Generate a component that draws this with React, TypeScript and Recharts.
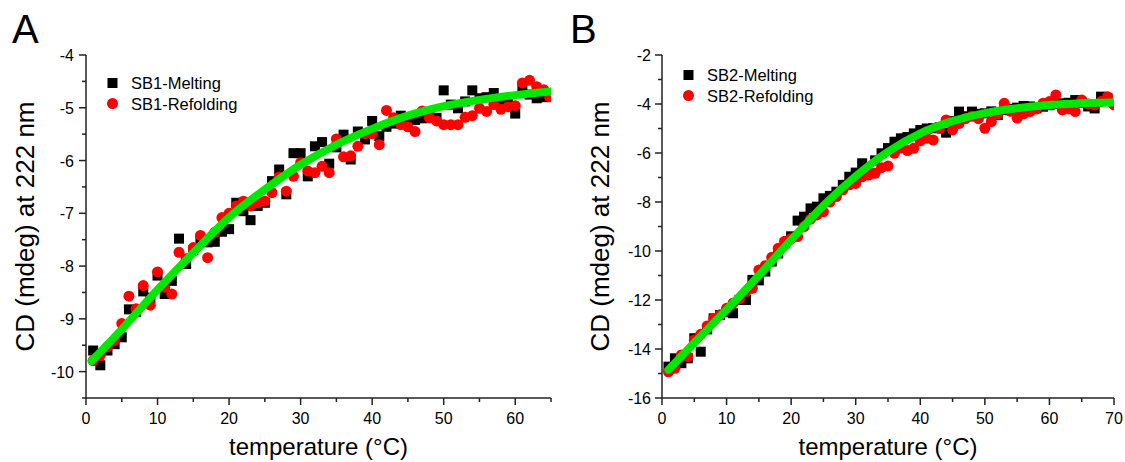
import React from 'react';
import { ComposedChart, Scatter, Line, XAxis, YAxis, Label } from 'recharts';

// ---------- Panel A data ----------
const tempMeltA = [1,2,3,4,5,6,7,8,9,10,11,12,13,14,15,16,17,18,19,20,21,22,23,24,25,26,27,28,29,30,31,32,33,34,35,36,37,38,39,40,41,42,43,44,45,46,47,48,49,50,51,52,53,54,55,56,57,58,59,60,61,62,63,64];
const meltA = [-9.6,-9.88,-9.6,-9.48,-9.35,-8.82,-8.87,-8.48,-8.6,-8.18,-8.53,-8.28,-7.48,-7.96,-7.7,-7.49,-7.55,-7.54,-7.35,-7.3,-6.8,-6.96,-7.13,-6.86,-6.8,-6.39,-6.17,-6.64,-5.86,-5.86,-6.3,-5.73,-5.65,-6.06,-5.75,-5.51,-5.98,-5.45,-5.6,-5.25,-5.54,-5.36,-5.3,-5.15,-5.19,-5.23,-5.2,-5.15,-5.19,-4.67,-4.94,-5.01,-4.88,-4.67,-4.82,-4.8,-4.72,-4.88,-4.85,-5.11,-4.6,-4.75,-4.82,-4.8];
const tempRefoldA = [1,2,3,4,5,6,7,8,9,10,11,12,13,14,15,16,17,18,19,20,21,22,23,24,25,26,27,28,29,30,31,32,33,34,35,36,37,38,39,40,41,42,43,44,45,46,47,48,49,50,51,52,53,54,55,56,57,58,59,60,61,62,63,64,64.8];
const refoldA = [-9.79,-9.69,-9.53,-9.41,-9.09,-8.57,-8.81,-8.37,-8.74,-8.11,-8.4,-8.53,-7.74,-7.86,-7.65,-7.42,-7.84,-7.36,-7.08,-7.0,-6.86,-6.77,-6.86,-6.8,-6.77,-6.61,-6.31,-6.58,-6.3,-6.04,-6.2,-6.23,-6.11,-6.23,-5.59,-5.93,-5.91,-5.73,-5.49,-5.49,-5.7,-5.05,-5.19,-5.32,-5.36,-5.45,-5.06,-5.19,-5.25,-5.32,-5.32,-5.32,-5.18,-5.15,-5.01,-5.07,-4.94,-5.03,-4.98,-4.96,-4.53,-4.48,-4.6,-4.66,-4.79];
const fitTempA = [0.8,5,10,15,20,25,30,35,40,45,50,55,60,65];
const fitA = [-9.8,-9.2,-8.45,-7.75,-7.08,-6.55,-6.08,-5.7,-5.4,-5.15,-4.97,-4.85,-4.76,-4.69];

// ---------- Panel B data ----------
const tempMeltB = [1,2,3,4,5,6,7,8,9,10,11,12,13,14,15,16,17,18,19,20,21,22,23,24,25,26,27,28,29,30,31,32,33,34,35,36,37,38,39,40,41,42,43,44,45,46,47,48,49,50,51,52,53,54,55,56,57,58,59,60,61,62,63,64,65,66,67,68,69];
const meltB = [-14.72,-14.38,-14.58,-14.38,-13.56,-14.11,-13.2,-12.75,-12.61,-12.5,-12.54,-12.0,-12.0,-11.18,-11.2,-10.84,-10.43,-10.1,-9.69,-9.4,-8.76,-8.6,-8.26,-8.19,-7.85,-7.75,-7.58,-7.3,-6.97,-6.8,-6.42,-6.83,-6.3,-6.01,-5.8,-5.54,-5.4,-5.35,-5.2,-5.06,-5.0,-4.99,-4.95,-5.17,-4.7,-4.31,-4.5,-4.31,-4.4,-4.38,-4.3,-4.45,-4.25,-4.2,-4.15,-4.08,-4.1,-4.18,-4.11,-4.05,-4.0,-3.97,-3.95,-3.84,-3.95,-4.1,-4.18,-3.7,-3.77];
const tempRefoldB = [1,2,3,4,5,6,7,8,9,10,11,12,13,14,15,16,17,18,19,20,21,22,23,24,25,26,27,28,29,30,31,32,33,34,35,36,37,38,39,40,41,42,43,44,45,46,47,48,49,50,51,52,53,54,55,56,57,58,59,60,61,62,63,64,65,66,67,68,69,70];
const refoldB = [-14.93,-14.79,-14.24,-14.31,-13.63,-13.4,-13.06,-12.75,-12.6,-12.34,-12.13,-11.95,-11.66,-11.52,-10.78,-10.6,-10.26,-9.89,-9.6,-9.5,-9.41,-9.0,-8.7,-8.53,-8.4,-8.0,-7.78,-7.5,-7.3,-7.24,-6.97,-6.9,-6.83,-6.6,-6.53,-6.01,-5.8,-5.9,-5.81,-5.5,-5.4,-5.47,-5.0,-4.65,-5.06,-4.8,-4.6,-4.5,-4.6,-4.99,-4.72,-4.4,-3.97,-4.3,-4.58,-4.4,-4.31,-4.2,-3.97,-3.9,-3.63,-4.24,-4.2,-4.31,-3.84,-4.0,-4.04,-3.9,-3.7,-4.04];
const fitTempB = [1,5,10,15,20,25,30,35,40,45,50,55,60,65,70];
const fitB = [-14.85,-13.75,-12.4,-11.0,-9.55,-8.15,-6.95,-5.95,-5.2,-4.7,-4.37,-4.17,-4.04,-3.97,-3.94];

// ---------- Axes ticks / labels ----------
const xTicksA = [0,5,10,15,20,25,30,35,40,45,50,55,60,65];
const xMajorsA = [0,10,20,30,40,50,60];
const yTicksA = [-10.5,-10,-9.5,-9,-8.5,-8,-7.5,-7,-6.5,-6,-5.5,-5,-4.5,-4];
const yMajorsA = [-10,-9,-8,-7,-6,-5,-4];
const xTicksB = [0,5,10,15,20,25,30,35,40,45,50,55,60,65,70];
const xMajorsB = [0,10,20,30,40,50,60,70];
const yTicksB = [-16,-15,-14,-13,-12,-11,-10,-9,-8,-7,-6,-5,-4,-3,-2];
const yMajorsB = [-16,-14,-12,-10,-8,-6,-4,-2];

const panelLabels = ['A', 'B'];
const seriesNamesA = ['SB1-Melting', 'SB1-Refolding'];
const seriesNamesB = ['SB2-Melting', 'SB2-Refolding'];
const xTitle = 'temperature (°C)';
const yTitle = 'CD (mdeg) at 222 nm';

const FONT = '"Liberation Sans", Arial, sans-serif';
const AXIS = '#222';
const GREEN = '#00e800';
const RED = '#ff0000';
const CHART_H = 462;
const PLOT_TOP = 55;
const XAXIS_H = 64;

const zip = (xs: number[], ys: number[]) => ys.map((y, i) => ({ x: xs[i], y }));

const isMajor = (v: number, majors: number[]) => majors.some((m) => Math.abs(m - v) < 1e-6);

function AxisTick(props: any) {
  const { x = 0, y = 0, payload, orient, majors, labelGap = 12 } = props;
  const v = payload?.value as number;
  const major = isMajor(v, majors);
  const len = major ? 7 : 4;
  if (orient === 'bottom') {
    return (
      <g>
        <line x1={x} y1={y} x2={x} y2={y + len} stroke={AXIS} strokeWidth={1.5} />
        {major && (
          <text x={x} y={y + 26} textAnchor="middle" fontSize={16} fontFamily={FONT} fill="#000">{v}</text>
        )}
      </g>
    );
  }
  if (orient === 'top') {
    return <line x1={x} y1={y} x2={x} y2={y - len} stroke={AXIS} strokeWidth={1.5} />;
  }
  if (orient === 'left') {
    return (
      <g>
        <line x1={x - len} y1={y} x2={x} y2={y} stroke={AXIS} strokeWidth={1.5} />
        {major && (
          <text x={x - labelGap} y={y + 6} textAnchor="end" fontSize={16} fontFamily={FONT} fill="#000">{v}</text>
        )}
      </g>
    );
  }
  return <line x1={x} y1={y} x2={x + len} y2={y} stroke={AXIS} strokeWidth={1.5} />;
}

const SquareShape = (p: any) => <rect x={p.cx - 5} y={p.cy - 5} width={10} height={10} fill="#000" />;
const CircleShape = (p: any) => <circle cx={p.cx} cy={p.cy} r={5.5} fill={RED} />;

type PanelProps = {
  width: number;
  yAxisWidth: number;
  marginRight: number;
  xDomain: [number, number];
  yDomain: [number, number];
  xTicks: number[];
  xMajors: number[];
  yTicks: number[];
  yMajors: number[];
  melt: { x: number; y: number }[];
  refold: { x: number; y: number }[];
  fit: { x: number; y: number }[];
  names: string[];
  labelGap: number;
};

function Panel(p: PanelProps) {
  return (
    <ComposedChart
      width={p.width}
      height={CHART_H}
      margin={{ top: PLOT_TOP, right: p.marginRight, bottom: 0, left: 0 }}
    >
      <XAxis
        xAxisId="b"
        type="number"
        dataKey="x"
        domain={p.xDomain}
        ticks={p.xTicks}
        interval={0}
        allowDataOverflow
        height={XAXIS_H}
        tickSize={0}
        tickMargin={0}
        tickLine={false}
        axisLine={{ stroke: AXIS, strokeWidth: 1.5 }}
        tick={(t: any) => <AxisTick {...t} orient="bottom" majors={p.xMajors} />}
      >
        <Label value={xTitle} position="insideBottom" offset={7} fontSize={24} fontFamily={FONT} fill="#000" />
      </XAxis>
      <XAxis
        xAxisId="t"
        orientation="top"
        type="number"
        dataKey="x"
        domain={p.xDomain}
        ticks={p.xTicks}
        interval={0}
        allowDataOverflow
        height={0}
        tickSize={0}
        tickMargin={0}
        tickLine={false}
        axisLine={{ stroke: AXIS, strokeWidth: 1.5 }}
        tick={(t: any) => <AxisTick {...t} orient="top" majors={p.xMajors} />}
      />
      <YAxis
        yAxisId="l"
        type="number"
        domain={p.yDomain}
        ticks={p.yTicks}
        interval={0}
        allowDataOverflow
        width={p.yAxisWidth}
        tickSize={0}
        tickMargin={0}
        tickLine={false}
        axisLine={{ stroke: AXIS, strokeWidth: 1.5 }}
        tick={(t: any) => <AxisTick {...t} orient="left" majors={p.yMajors} labelGap={p.labelGap} />}
      >
        <Label
          value={yTitle}
          angle={-90}
          position="insideLeft"
          offset={25}
          fontSize={26}
          fontFamily={FONT}
          fill="#000"
          style={{ textAnchor: 'middle' }}
        />
      </YAxis>
      <YAxis
        yAxisId="r"
        orientation="right"
        type="number"
        domain={p.yDomain}
        ticks={p.yTicks}
        interval={0}
        allowDataOverflow
        width={0}
        tickSize={0}
        tickMargin={0}
        tickLine={false}
        axisLine={{ stroke: AXIS, strokeWidth: 1.5 }}
        tick={(t: any) => <AxisTick {...t} orient="right" majors={p.yMajors} />}
      />
      <Scatter
        name={p.names[0]}
        data={p.melt}
        xAxisId="b"
        yAxisId="l"
        dataKey="y"
        shape={SquareShape}
        isAnimationActive={false}
      />
      <Scatter
        name={p.names[1]}
        data={p.refold}
        xAxisId="b"
        yAxisId="l"
        dataKey="y"
        shape={CircleShape}
        isAnimationActive={false}
      />
    </ComposedChart>
  );
}

// The fitted curve is drawn in an overlay chart with identical plot area, so it sits above the markers.
function FitOverlay(p: PanelProps) {
  return (
    <ComposedChart
      width={p.width}
      height={CHART_H}
      margin={{ top: PLOT_TOP, right: p.marginRight, bottom: XAXIS_H, left: p.yAxisWidth }}
    >
      <XAxis xAxisId="b" type="number" dataKey="x" domain={p.xDomain} allowDataOverflow hide />
      <YAxis yAxisId="l" type="number" domain={p.yDomain} allowDataOverflow hide />
      <Line
        data={p.fit}
        xAxisId="b"
        yAxisId="l"
        dataKey="y"
        type="monotone"
        stroke={GREEN}
        strokeWidth={8}
        strokeLinecap="round"
        dot={false}
        activeDot={false}
        legendType="none"
        isAnimationActive={false}
      />
    </ComposedChart>
  );
}

function LegendBox({ left, top, names }: { left: number; top: number; names: string[] }) {
  return (
    <svg
      width={200}
      height={50}
      style={{ position: 'absolute', left, top, overflow: 'visible' }}
    >
      <rect x={3.5} y={4} width={10} height={10} fill="#000" />
      <text x={27} y={15} fontSize={16.5} fontFamily={FONT} fill="#000">{names[0]}</text>
      <circle cx={8.5} cy={29.5} r={5.5} fill={RED} />
      <text x={27} y={35.5} fontSize={16.5} fontFamily={FONT} fill="#000">{names[1]}</text>
    </svg>
  );
}

export default function App() {
  const panelA: PanelProps = {
    width: 575,
    yAxisWidth: 86,
    marginRight: 24,
    xDomain: [0, 65],
    yDomain: [-10.5, -4],
    xTicks: xTicksA,
    xMajors: xMajorsA,
    yTicks: yTicksA,
    yMajors: yMajorsA,
    melt: zip(tempMeltA, meltA),
    refold: zip(tempRefoldA, refoldA),
    fit: zip(fitTempA, fitA),
    names: seriesNamesA,
    labelGap: 12,
  };
  const panelB: PanelProps = {
    width: 550,
    yAxisWidth: 87,
    marginRight: 11,
    xDomain: [0, 70],
    yDomain: [-16, -2],
    xTicks: xTicksB,
    xMajors: xMajorsB,
    yTicks: yTicksB,
    yMajors: yMajorsB,
    melt: zip(tempMeltB, meltB),
    refold: zip(tempRefoldB, refoldB),
    fit: zip(fitTempB, fitB),
    names: seriesNamesB,
    labelGap: 11,
  };
  return (
    <div style={{ position: 'fixed', left: 0, top: 0, width: 1125, height: 462, background: '#fff', overflow: 'hidden' }}>
      <div style={{ position: 'absolute', left: 0, top: 0 }}>
        <Panel {...panelA} />
      </div>
      <div style={{ position: 'absolute', left: 0, top: 0 }}>
        <FitOverlay {...panelA} />
      </div>
      <div style={{ position: 'absolute', left: 575, top: 0 }}>
        <Panel {...panelB} />
      </div>
      <div style={{ position: 'absolute', left: 575, top: 0 }}>
        <FitOverlay {...panelB} />
      </div>
      <LegendBox left={104} top={74} names={seriesNamesA} />
      <LegendBox left={680} top={66} names={seriesNamesB} />
      <svg width={1125} height={462} style={{ position: 'absolute', left: 0, top: 0, pointerEvents: 'none' }}>
        <text x={12} y={43} fontSize={40} fontFamily={FONT} fill="#000">{panelLabels[0]}</text>
        <text x={570} y={43} fontSize={40} fontFamily={FONT} fill="#000">{panelLabels[1]}</text>
      </svg>
    </div>
  );
}
